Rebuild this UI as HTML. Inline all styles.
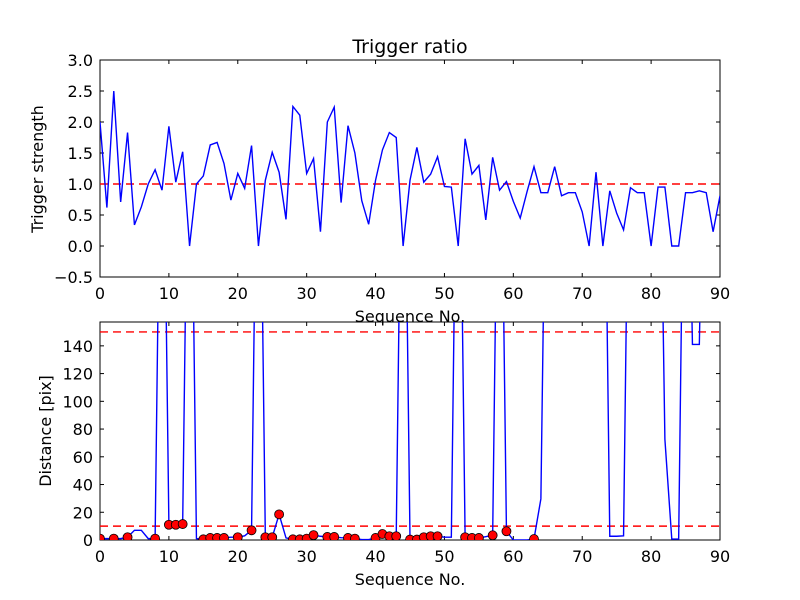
<!DOCTYPE html>
<html><head><meta charset="utf-8"><style>
html,body{margin:0;padding:0;background:#fff;}
svg{display:block;font-family:"DejaVu Sans","Liberation Sans",sans-serif;}
</style></head><body>
<svg id="chart" width="800" height="600" viewBox="0 0 800 600">
<rect x="0" y="0" width="800" height="600" fill="#fff"/>
<defs>
<clipPath id="clipTop"><rect x="100" y="60" width="620" height="217"/></clipPath>
<clipPath id="clipBot"><rect x="100" y="322" width="620" height="218"/></clipPath>
</defs>
<g id="topPanel"></g>
<g id="botPanel"></g>
</svg>
<script>
const strength = [2.0,0.62,2.5,0.71,1.83,0.34,0.63,1.0,1.23,0.9,1.93,1.03,1.52,0,1.0,1.13,1.63,1.67,1.33,0.74,1.17,0.93,1.62,0,1.06,1.51,1.19,0.43,2.25,2.11,1.17,1.41,0.23,2.0,2.24,0.70,1.94,1.5,0.73,0.35,1.06,1.55,1.83,1.75,0,1.06,1.59,1.03,1.16,1.44,0.96,0.95,0,1.73,1.16,1.30,0.42,1.43,0.9,1.04,0.72,0.45,0.88,1.28,0.86,0.86,1.28,0.81,0.86,0.86,0.55,0,1.19,0,0.89,0.53,0.26,0.94,0.86,0.86,0,0.95,0.95,0,0,0.86,0.86,0.89,0.86,0.23,0.81];
const distance = [1,1,1,1,2,7,7,1,1,1000,11,11,11.5,1000,1,0.5,1.5,1.5,1.5,2,2,3,7,1000,2,2,18.5,1.5,0.5,0.5,1,3.5,2.7,2.2,2.2,1.7,1.5,1,0.3,0.3,1.5,4.3,2.7,2.7,1000,0.3,0.3,2,2.7,2.7,2,2,1000,2,1.5,1.5,2.4,3.4,1000,6.3,0,0,0,0.7,29.7,1000,1000,1000,1000,1000,1000,1000,1000,1000,2.7,2.7,3,1000,1000,1000,1000,1000,72.7,0.7,0.7,1000,141,141,1000,1000,1000];
const topYTicks = [-0.5,0.0,0.5,1.0,1.5,2.0,2.5,3.0];
const botYTicks = [0,20,40,60,80,100,120,140];
const xTicks = [0,10,20,30,40,50,60,70,80,90];
const strengthThreshold = 1.0;
const distThresholds = [150,10];

const NS='http://www.w3.org/2000/svg';
function mk(parent,tag,attrs,text){const e=document.createElementNS(NS,tag);for(const k in attrs)e.setAttribute(k,attrs[k]);if(text!==undefined)e.textContent=text;parent.appendChild(e);return e;}
const X0=100,X1=720;
const xs=i=>X0+(X1-X0)*i/90;
const yTop=v=>60+(3.0-v)*62;
const yBot=v=>540-v*(218/157.2);

function axes(g,y0,y1,yTicks,yf,fmt,name){
  const fr=mk(g,'rect',{x:X0,y:y0,width:X1-X0,height:y1-y0,fill:'none',stroke:'#000','stroke-width':1});
  
  
  xTicks.forEach(t=>{
    const x=xs(t);
    mk(g,'line',{x1:x,x2:x,y1:y1,y2:y1-4,stroke:'#000'});
    mk(g,'line',{x1:x,x2:x,y1:y0,y2:y0+4,stroke:'#000'});
    const l=mk(g,'text',{x:x,y:y1+22,'text-anchor':'middle','font-size':16},String(t));
    
    
  });
  yTicks.forEach(t=>{
    const y=yf(t);
    mk(g,'line',{x1:X0,x2:X0+4,y1:y,y2:y,stroke:'#000'});
    mk(g,'line',{x1:X1,x2:X1-4,y1:y,y2:y,stroke:'#000'});
    const l=mk(g,'text',{x:X0-7,y:y+6,'text-anchor':'end','font-size':16},fmt(t));
    
    
  });
  const xl=mk(g,'text',{x:410,y:y1+45,'text-anchor':'middle','font-size':16},'Sequence No.');
  
  
}

const topG=document.getElementById('topPanel');
axes(topG,60,277,topYTicks,yTop,t=>t.toFixed(1).replace('-','\u2212'),'top');
const title=mk(topG,'text',{x:410,y:53,'text-anchor':'middle','font-size':19},'Trigger ratio');


const yl1=mk(topG,'text',{transform:'translate(43,169) rotate(-90)','text-anchor':'middle','font-size':16},'Trigger strength');


const tg=mk(topG,'g',{'clip-path':'url(#clipTop)'});
const th=mk(tg,'line',{x1:X0,x2:X1,y1:yTop(strengthThreshold),y2:yTop(strengthThreshold),stroke:'#f00','stroke-width':1.4,'stroke-dasharray':'8,5'});


const sl=mk(tg,'polyline',{points:strength.map((v,i)=>xs(i)+','+yTop(v)).join(' '),fill:'none',stroke:'#00f','stroke-width':1.4});



const botG=document.getElementById('botPanel');
axes(botG,322,540,botYTicks,yBot,t=>String(t),'bottom');
const yl2=mk(botG,'text',{transform:'translate(51,431) rotate(-90)','text-anchor':'middle','font-size':16},'Distance [pix]');


const bg=mk(botG,'g',{'clip-path':'url(#clipBot)'});
distThresholds.forEach(v=>{
  const d=mk(bg,'line',{x1:X0,x2:X1,y1:yBot(v),y2:yBot(v),stroke:'#f00','stroke-width':1.4,'stroke-dasharray':'8,5'});
  
  
});
const dl=mk(bg,'polyline',{points:distance.map((v,i)=>xs(i)+','+yBot(Math.min(v,400))).join(' '),fill:'none',stroke:'#00f','stroke-width':1.4});


distance.forEach((v,i)=>{
  if(strength[i]>strengthThreshold && v<160){
    const c=mk(bg,'circle',{cx:xs(i),cy:yBot(v),r:4.5,fill:'#f00',stroke:'#000','stroke-width':0.8});
    
    
  }
});
</script>
</body></html>
